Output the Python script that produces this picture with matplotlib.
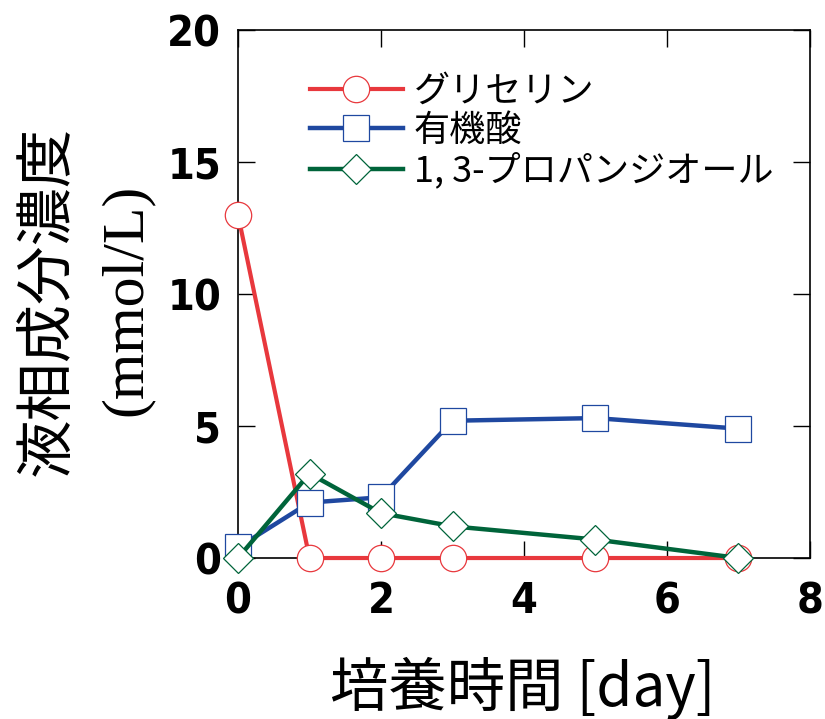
import matplotlib
matplotlib.use('Agg')
import matplotlib.pyplot as plt

# Culture time (days) and liquid-phase concentrations (mmol/L)
days = [0, 1, 2, 3, 5, 7]
glycerol = [13.0, 0.0, 0.0, 0.0, 0.0, 0.0]
organic_acid = [0.4, 2.1, 2.3, 5.2, 5.3, 4.9]
propanediol = [0.0, 3.2, 1.7, 1.2, 0.7, 0.0]

series_labels = ['グリセリン', '有機酸', '1, 3-プロパンジオール']
xticks = [0, 2, 4, 6, 8]
yticks = [0, 5, 10, 15, 20]

jp = 'Noto Sans CJK JP'

fig = plt.figure(figsize=(8.25, 7.19), dpi=100)
ax = fig.add_axes([0.2885, 0.2239, 0.6933, 0.7344])

ax.plot(days, glycerol, color='#e8383d', lw=3, marker='o', ms=19,
        mfc='white', mec='#e8383d', mew=0.9, label=series_labels[0], zorder=3)
ax.plot(days, organic_acid, color='#1f48a0', lw=3.2, marker='s', ms=19,
        mfc='white', mec='#1f48a0', mew=0.9, label=series_labels[1], zorder=4)
ax.plot(days, propanediol, color='#00643a', lw=3.2, marker='D', ms=15,
        mfc='white', mec='#00643a', mew=0.9, label=series_labels[2], zorder=5)

ax.set_xlim(0, 8)
ax.set_ylim(0, 20)
ax.set_xticks(xticks)
ax.set_yticks(yticks)
ax.tick_params(axis='x', direction='in', length=12, width=1, top=True, pad=16)
ax.tick_params(axis='y', direction='in', length=12, width=1, right=True, pad=12)
for lab in ax.get_xticklabels() + ax.get_yticklabels():
    lab.set_fontfamily('DejaVu Sans')
    lab.set_fontstretch('condensed')
    lab.set_fontweight('bold')
    lab.set_fontsize(31)
for s in ax.spines.values():
    s.set_linewidth(1.2)
for line in ax.lines:
    line.set_clip_on(False)

leg = ax.legend(loc='upper left', bbox_to_anchor=(0.125, 0.918), frameon=False,
                prop={'family': [jp, 'DejaVu Sans'], 'size': 26},
                handlelength=2.6, handletextpad=0.28, labelspacing=0.1,
                borderaxespad=0, borderpad=0)

fig.text(0.633, 0.043, '培養時間 [day]', ha='center', va='center',
         fontsize=42, family=[jp, 'DejaVu Sans'])
fig.text(0.058, 0.581, '液相成分濃度', ha='center', va='center', rotation=90,
         fontsize=42, family=[jp, 'DejaVu Sans'])
fig.text(0.154, 0.583, '(mmol/L)', ha='center', va='center', rotation=90,
         fontsize=43, family='Liberation Serif')

fig.savefig('out.png', dpi=100)
